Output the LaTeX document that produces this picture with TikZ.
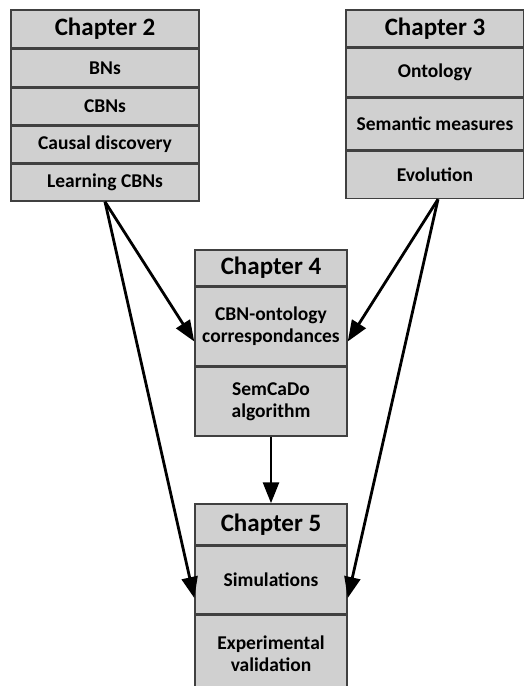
\documentclass[tikz,border=0pt]{standalone}
\usepackage{fontspec}
\setmainfont{Carlito}
\usetikzlibrary{positioning,arrows.meta}

\definecolor{boxgray}{RGB}{208,208,208}
\definecolor{edgegray}{RGB}{64,64,64}

\tikzstyle{part} =[shape=rectangle,draw=edgegray,fill=boxgray,line width=1.5pt,
inner sep=0pt,align=center,text centered,font=\fontsize{19.5}{22}\selectfont\bfseries]
\tikzstyle{chap} =[part,font=\fontsize{25}{28}\selectfont\bfseries]
\tikzstyle{link} =[line width=2.8pt,-{Triangle[length=21pt,width=16pt]}]

\begin{document}
\begin{tikzpicture}[x=1pt,y=-1pt]
\useasboundingbox (0,0) rectangle (523,686);

% Chapter 2
\node[chap,minimum width=188pt,minimum height=38pt] (ch2) at (105,29) {Chapter 2};
\node[part,minimum width=188pt,minimum height=37pt,below=0pt of ch2] (ch2a) {BNs};
\node[part,minimum width=188pt,minimum height=37pt,below=0pt of ch2a] (ch2b) {CBNs};
\node[part,minimum width=188pt,minimum height=36pt,below=0pt of ch2b] (ch2c) {Causal discovery};
\node[part,minimum width=188pt,minimum height=37pt,below=0pt of ch2c] (ch2d) {Learning CBNs};

% Chapter 3
\node[chap,minimum width=178pt,minimum height=37pt] (ch3) at (435,28.5) {Chapter 3};
\node[part,minimum width=178pt,minimum height=48pt,below=0pt of ch3] (ch3a) {Ontology};
\node[part,minimum width=178pt,minimum height=52pt,below=0pt of ch3a] (ch3b) {Semantic measures};
\node[part,minimum width=178pt,minimum height=47pt,below=0pt of ch3b] (ch3c) {Evolution};

% Chapter 4
\node[chap,minimum width=152pt,minimum height=36pt] (ch4) at (271,268) {Chapter 4};
\node[part,minimum width=152pt,minimum height=78pt,below=0pt of ch4] (ch4a) {CBN-ontology\\correspondances};
\node[part,minimum width=152pt,minimum height=69pt,below=0pt of ch4a] (ch4b) {SemCaDo\\algorithm};

% Chapter 5
\node[chap,minimum width=152pt,minimum height=41pt] (ch5) at (271,524.5) {Chapter 5};
\node[part,minimum width=152pt,minimum height=67pt,below=0pt of ch5] (ch5a) {Simulations};
\node[part,minimum width=152pt,minimum height=90pt,below=0pt of ch5a,text depth=12pt] (ch5b) {Experimental\\validation};

% links
\draw[link] (ch2d.south) -- ([yshift=-15pt]ch4a.west);
\draw[link] (ch2d.south) -- ([yshift=-18pt]ch5a.west);
\draw[link] ([xshift=3pt]ch3c.south) -- ([yshift=-15pt]ch4a.east);
\draw[link] ([xshift=3pt]ch3c.south) -- ([yshift=-18pt]ch5a.east);
\draw[link] (ch4b.south) -- (ch5.north);
\end{tikzpicture}
\end{document}
